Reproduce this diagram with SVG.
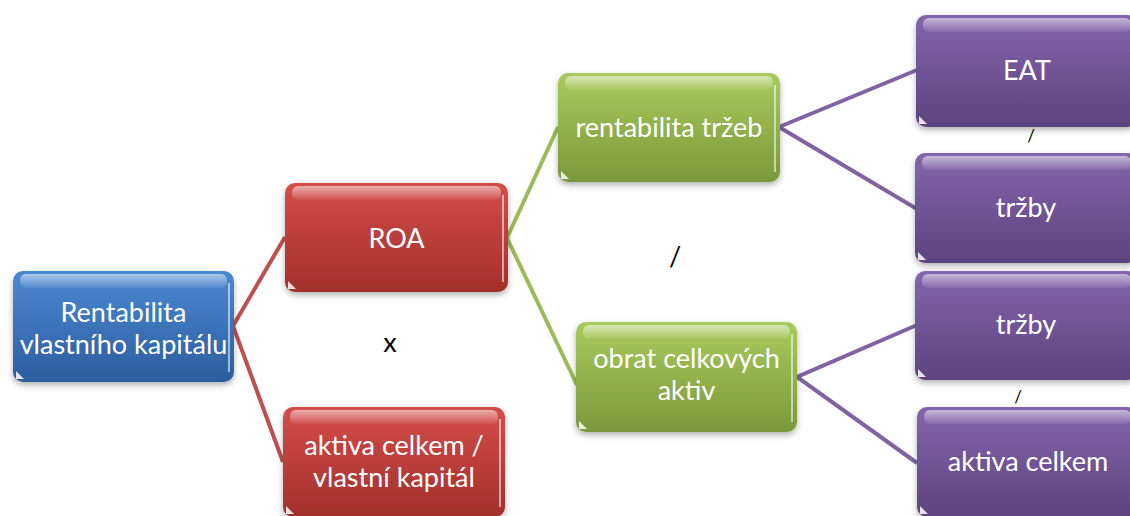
<svg xmlns="http://www.w3.org/2000/svg" width="1130" height="516" viewBox="0 0 1130 516">
<style>
.lbl{font-family:Lato,"Liberation Sans",sans-serif;font-size:27px;fill:#ffffff;text-anchor:middle}
.op{font-family:Lato,"Liberation Sans",sans-serif;fill:#000000;text-anchor:middle}
.con{fill:none;stroke-width:4;stroke-linejoin:miter}
.hl{fill:url(#gTop)}
.edge{fill:none;stroke:#ffffff;stroke-opacity:0.55;stroke-width:2}
.tri{fill:#ffffff;fill-opacity:0.85}
</style>
<defs>
<linearGradient id="gBlue" x1="0" y1="0" x2="0" y2="1"><stop offset="0" stop-color="#4c88d2"/><stop offset="1" stop-color="#2c5d9e"/></linearGradient>
<linearGradient id="gRed" x1="0" y1="0" x2="0" y2="1"><stop offset="0" stop-color="#d44d4a"/><stop offset="1" stop-color="#a22f2c"/></linearGradient>
<linearGradient id="gGreen" x1="0" y1="0" x2="0" y2="1"><stop offset="0" stop-color="#a8cb5c"/><stop offset="1" stop-color="#7b983c"/></linearGradient>
<linearGradient id="gPurple" x1="0" y1="0" x2="0" y2="1"><stop offset="0" stop-color="#8465ab"/><stop offset="1" stop-color="#5e437f"/></linearGradient>
<linearGradient id="gTop" x1="0" y1="0" x2="0" y2="1"><stop offset="0" stop-color="#ffffff" stop-opacity="0.55"/><stop offset="1" stop-color="#ffffff" stop-opacity="0.05"/></linearGradient>
<filter id="sh" x="-10%" y="-10%" width="120%" height="130%"><feDropShadow dx="0" dy="3" stdDeviation="3" flood-color="#000000" flood-opacity="0.3"/></filter>
</defs>

<g id="connectors">
<polyline class="con" stroke="#c0504d" points="285,237 233,326 283,462"/>
<polyline class="con" stroke="#9bbb59" points="558,127 507,238 577,385"/>
<polyline class="con" stroke="#8064a2" points="917,70 779,127 917,209"/>
<polyline class="con" stroke="#8064a2" points="917,325 797,377 917,463"/>
</g>

<g id="n-rentabilita-vk">
<rect x="13" y="271" width="221" height="111" rx="10" fill="url(#gBlue)" filter="url(#sh)"/>
<rect x="20" y="274" width="207" height="14" rx="6" class="hl"/>
<line x1="229" y1="283" x2="229" y2="372" class="edge"/>
<polygon points="16,379 16,371 24,379" class="tri"/>
<text class="lbl" x="123.5" y="322">Rentabilita</text>
<text class="lbl" x="123.5" y="354">vlastního kapitálu</text>
</g>

<g id="n-roa">
<rect x="285" y="183" width="223" height="109" rx="10" fill="url(#gRed)" filter="url(#sh)"/>
<rect x="292" y="186" width="209" height="14" rx="6" class="hl"/>
<line x1="503" y1="195" x2="503" y2="282" class="edge"/>
<polygon points="288,289 288,281 296,289" class="tri"/>
<text class="lbl" x="396.5" y="248">ROA</text>
</g>

<g id="n-aktiva-vk">
<rect x="283" y="407" width="222" height="110" rx="10" fill="url(#gRed)" filter="url(#sh)"/>
<rect x="290" y="410" width="208" height="14" rx="6" class="hl"/>
<line x1="500" y1="419" x2="500" y2="507" class="edge"/>
<polygon points="286,514 286,506 294,514" class="tri"/>
<text class="lbl" x="394" y="455">aktiva celkem /</text>
<text class="lbl" x="394" y="487">vlastní kapitál</text>
</g>

<g id="n-rentabilita-trzeb">
<rect x="558" y="73" width="222" height="109" rx="10" fill="url(#gGreen)" filter="url(#sh)"/>
<rect x="565" y="76" width="208" height="14" rx="6" class="hl"/>
<line x1="775" y1="85" x2="775" y2="172" class="edge"/>
<polygon points="561,179 561,171 569,179" class="tri"/>
<text class="lbl" x="669" y="137">rentabilita tržeb</text>
</g>

<g id="n-obrat">
<rect x="576" y="322" width="221" height="110" rx="10" fill="url(#gGreen)" filter="url(#sh)"/>
<rect x="583" y="325" width="207" height="14" rx="6" class="hl"/>
<line x1="792" y1="334" x2="792" y2="422" class="edge"/>
<polygon points="579,429 579,421 587,429" class="tri"/>
<text class="lbl" x="686.5" y="368">obrat celkových</text>
<text class="lbl" x="686.5" y="400">aktiv</text>
</g>

<g id="n-eat">
<rect x="916" y="15" width="222" height="112" rx="10" fill="url(#gPurple)" filter="url(#sh)"/>
<rect x="923" y="18" width="208" height="14" rx="6" class="hl"/>
<polygon points="919,124 919,116 927,124" class="tri"/>
<text class="lbl" x="1027" y="80">EAT</text>
</g>

<g id="n-trzby1">
<rect x="915" y="153" width="223" height="110" rx="10" fill="url(#gPurple)" filter="url(#sh)"/>
<rect x="922" y="156" width="209" height="14" rx="6" class="hl"/>
<polygon points="918,260 918,252 926,260" class="tri"/>
<text class="lbl" x="1026" y="217">tržby</text>
</g>

<g id="n-trzby2">
<rect x="915" y="271" width="223" height="109" rx="10" fill="url(#gPurple)" filter="url(#sh)"/>
<rect x="922" y="274" width="209" height="14" rx="6" class="hl"/>
<polygon points="918,377 918,369 926,377" class="tri"/>
<text class="lbl" x="1026" y="334">tržby</text>
</g>

<g id="n-aktiva-celkem">
<rect x="917" y="407" width="221" height="110" rx="10" fill="url(#gPurple)" filter="url(#sh)"/>
<rect x="924" y="410" width="207" height="14" rx="6" class="hl"/>
<polygon points="920,514 920,506 928,514" class="tri"/>
<text class="lbl" x="1028" y="471">aktiva celkem</text>
</g>

<g id="operators">
<text class="op" x="390" y="352" font-size="27">x</text>
<text class="op" x="675" y="266" font-size="27">/</text>
<text class="op" x="1031" y="142" font-size="17">/</text>
<text class="op" x="1018" y="403" font-size="17">/</text>
</g>
</svg>
